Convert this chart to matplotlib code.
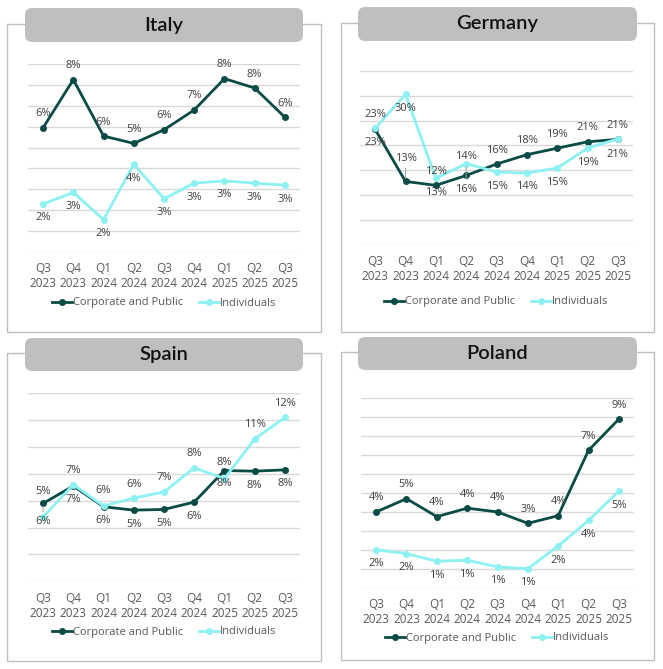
import matplotlib

matplotlib.use("Agg")
import matplotlib.pyplot as plt
from matplotlib.patches import FancyBboxPatch, Rectangle

plt.rcParams["font.family"] = ["Open Sans", "DejaVu Sans"]

QUARTERS = ["Q3\n2023", "Q4\n2023", "Q1\n2024", "Q2\n2024", "Q3\n2024",
            "Q4\n2024", "Q1\n2025", "Q2\n2025", "Q3\n2025"]

ITALY_CORP = [5.95, 8.25, 5.55, 5.2, 5.85, 6.8, 8.3, 7.85, 6.45]
ITALY_IND = [2.3, 2.85, 1.55, 4.2, 2.55, 3.3, 3.4, 3.3, 3.2]

GERMANY_CORP = [23.2, 12.7, 11.9, 13.9, 16.2, 18.1, 19.4, 20.7, 21.2]
GERMANY_IND = [23.4, 30.3, 13.3, 16.3, 14.6, 14.4, 15.4, 19.4, 21.3]

SPAIN_CORP = [5.8, 7.1, 5.55, 5.3, 5.35, 5.9, 8.25, 8.2, 8.3]
SPAIN_IND = [4.8, 7.2, 5.6, 6.2, 6.65, 8.45, 7.65, 10.6, 12.2]

POLAND_CORP = [4.0, 4.7, 3.75, 4.2, 4.0, 3.4, 3.8, 7.25, 8.9]
POLAND_IND = [2.0, 1.8, 1.4, 1.45, 1.1, 1.0, 2.2, 3.55, 5.1]

DARK = "#0B4B45"
CYAN = "#8DF1F1"
GRID = "#D9D9D9"
TEXT = "#404040"
TICK = "#595959"

W, H = 663, 669


def fx(px):
    return px / W


def fy(px):
    return 1 - px / H


# panel layout in pixels: border box, title box, plot area, y-scale, label offsets
PANELS = [
    {
        "title": "Italy", "corp": ITALY_CORP, "ind": ITALY_IND,
        "border": (7, 24, 321, 332), "titlebox": (25, 8, 303, 42),
        "plot": (28, 64, 300, 252), "ymax": 9, "step": 1, "legend_y": 303,
        "corp_dy": 14, "ind_dy": -14, "over": {},
    },
    {
        "title": "Germany", "corp": GERMANY_CORP, "ind": GERMANY_IND,
        "border": (341, 23, 654, 332), "titlebox": (358, 7, 637, 41),
        "plot": (360, 71, 633, 244.3), "ymax": 35, "step": 5, "legend_y": 302,
        "corp_dy": 14, "ind_dy": -14,
        "over": {("corp", 0): (-13, False), ("ind", 0): (14, False),
                 ("corp", 1): (23, True), ("corp", 2): (14, False),
                 ("corp", 3): (19, False), ("ind", 3): (-26, True),
                 ("corp", 8): (-15, False), ("ind", 8): (13, False)},
    },
    {
        "title": "Spain", "corp": SPAIN_CORP, "ind": SPAIN_IND,
        "border": (7, 353, 321, 661), "titlebox": (25, 338, 303, 371),
        "plot": (28, 393.3, 300, 581.3), "ymax": 14, "step": 2, "legend_y": 632,
        "corp_dy": -14, "ind_dy": 14,
        "over": {("corp", 0): (-18, True), ("ind", 0): (25, False),
                 ("corp", 6): (8, False), ("ind", 6): (-5, False),
                 ("ind", 2): (16, False)},
    },
    {
        "title": "Poland", "corp": POLAND_CORP, "ind": POLAND_IND,
        "border": (341, 352, 654, 660), "titlebox": (358, 337, 637, 370),
        "plot": (361, 398.3, 634, 587.7), "ymax": 10, "step": 1, "legend_y": 638,
        "corp_dy": 14, "ind_dy": -14, "over": {},
    },
]


def draw_panel(fig, p):
    x0, y0, x1, y1 = p["border"]
    fig.patches.append(Rectangle((fx(x0), fy(y1)), fx(x1 - x0), (y1 - y0) / H,
                                 transform=fig.transFigure, facecolor="white",
                                 edgecolor="#BFBFBF", linewidth=1.0, zorder=-2))
    tx0, ty0, tx1, ty1 = p["titlebox"]
    fig.patches.append(FancyBboxPatch((fx(tx0), fy(ty1)), fx(tx1 - tx0), (ty1 - ty0) / H,
                                      boxstyle="round,pad=0,rounding_size=0.011",
                                      transform=fig.transFigure, facecolor="#BFBFBF",
                                      edgecolor="none", zorder=-1))
    fig.text(fx((tx0 + tx1) / 2), fy((ty0 + ty1) / 2), p["title"], ha="center", va="center",
             fontsize=14.5, fontweight="semibold", family=["Lato", "DejaVu Sans"],
             color="#111111")

    px0, py0, px1, py1 = p["plot"]
    ax = fig.add_axes([fx(px0), fy(py1), fx(px1 - px0), (py1 - py0) / H])
    ax.set_facecolor("none")
    x = list(range(len(QUARTERS)))
    ax.set_xlim(-0.5, len(QUARTERS) - 0.5)
    ax.set_ylim(0, p["ymax"])
    ax.set_yticks(range(0, p["ymax"] + 1, p["step"]))
    ax.set_yticklabels([])
    ax.tick_params(axis="y", length=0)
    ax.grid(axis="y", color=GRID, linewidth=1.0)
    ax.set_axisbelow(True)
    for s in ax.spines.values():
        s.set_visible(False)
    ax.set_xticks(x, QUARTERS, linespacing=1.2)
    ax.tick_params(axis="x", length=0, pad=7.5, labelsize=8.5, labelcolor=TICK)

    ax.plot(x, p["corp"], color=DARK, linewidth=2.0, marker="o", markersize=4,
            label="Corporate and Public", zorder=3)
    ax.plot(x, p["ind"], color=CYAN, linewidth=2.0, marker="o", markersize=4,
            label="Individuals", zorder=3)

    for key, vals in (("corp", p["corp"]), ("ind", p["ind"])):
        base = p["corp_dy"] if key == "corp" else p["ind_dy"]
        for i, v in enumerate(vals):
            dy, leader = p["over"].get((key, i), (base, False))
            kw = {}
            if leader:
                kw["arrowprops"] = dict(arrowstyle="-", color="#A6A6A6", lw=0.7,
                                        shrinkA=1, shrinkB=2)
            ax.annotate(f"{v:.0f}%", (i, v), xytext=(0, dy), textcoords="offset pixels",
                        ha="center", va="center", fontsize=8, color=TEXT,
                        annotation_clip=False, zorder=4, **kw)

    leg_y = (py1 - p["legend_y"]) / (py1 - py0)
    ax.legend(loc="center", bbox_to_anchor=(0.5, leg_y), ncol=2, frameon=False,
              fontsize=8, labelcolor=TICK, handlelength=1.8, handletextpad=0.1,
              columnspacing=1.4, borderaxespad=0)


def main():
    fig = plt.figure(figsize=(W / 100, H / 100), dpi=100)
    for p in PANELS:
        draw_panel(fig, p)
    fig.savefig("out.png", dpi=100, facecolor="white")
    plt.close(fig)


if __name__ == "__main__":
    main()
